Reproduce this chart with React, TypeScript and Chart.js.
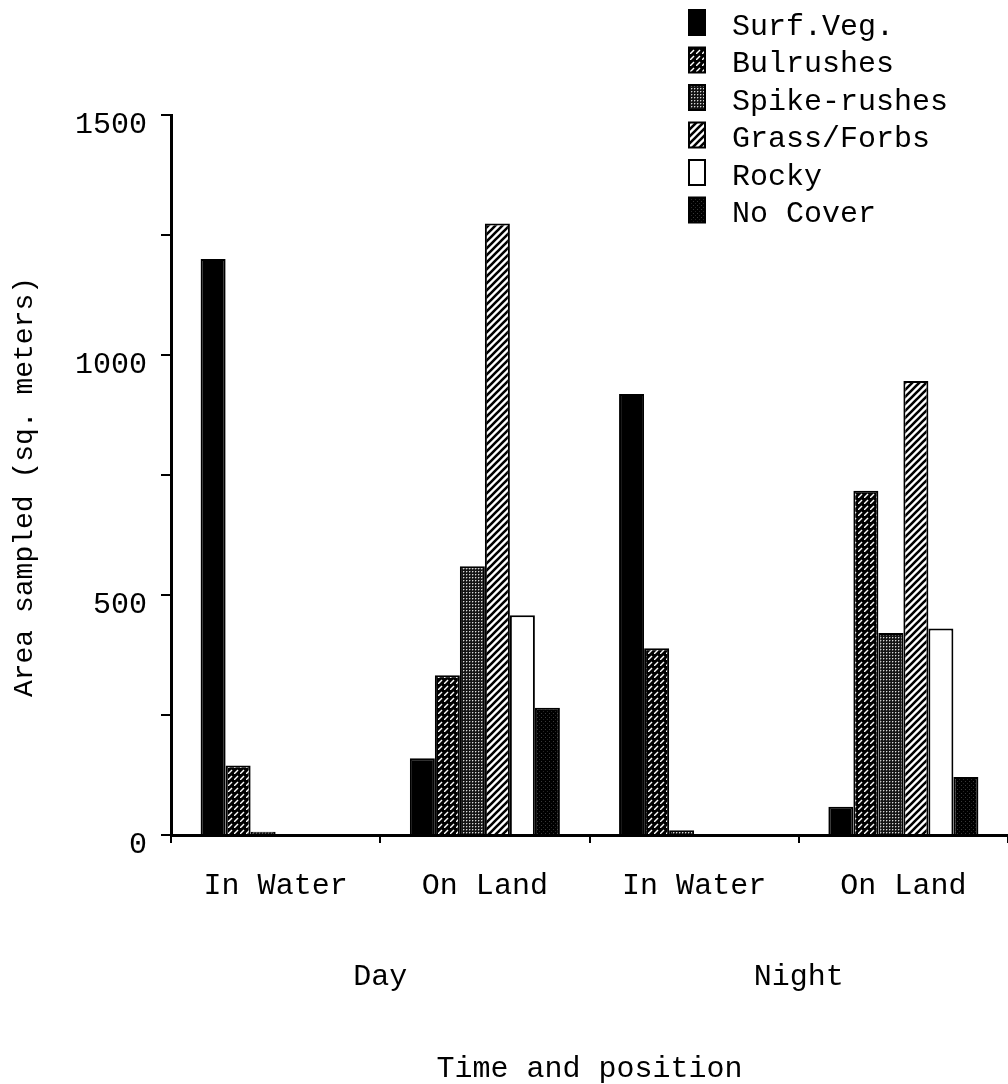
import React, { useEffect, useRef } from 'react';
import { Chart, registerables } from 'chart.js';

Chart.register(...registerables);

// Categories along the x axis and the period row beneath them
const positions = ['In Water', 'On Land', 'In Water', 'On Land'];
const periods = ['Day', 'Night'];

// Area sampled (sq. meters) for each cover type, per category
const seriesNames = ['Surf.Veg.', 'Bulrushes', 'Spike-rushes', 'Grass/Forbs', 'Rocky', 'No Cover'];
const surfVeg = [1200, 160, 919, 59];
const bulrushes = [145, 333, 389, 717];
const spikeRushes = [7, 560, 10, 421];
const grassForbs = [0, 1274, 0, 946];
const rocky = [0, 458, 0, 430];
const noCover = [0, 265, 0, 121];

// Y axis range and tick spacing; only every second tick is labelled
const yMin = 0;
const yMax = 1500;
const yStep = 250;
const yLabelEvery = 500;
const yTitle = 'Area sampled (sq. meters)';
const xTitle = 'Time and position';

const FONT = "'Liberation Mono', 'Courier New', monospace";
const INK = '#000';

function makeTile(size: number, paint: (ctx: CanvasRenderingContext2D) => void): CanvasPattern | string {
  const c = document.createElement('canvas');
  c.width = size;
  c.height = size;
  const ctx = c.getContext('2d');
  if (!ctx) return '#000';
  paint(ctx);
  const p = ctx.createPattern(c, 'repeat');
  return p || '#000';
}

function buildFills() {
  // Black with thin white dashed diagonals
  const bulrushFill = makeTile(6, (ctx) => {
    ctx.fillStyle = '#000';
    ctx.fillRect(0, 0, 6, 6);
    ctx.strokeStyle = '#fff';
    ctx.lineWidth = 1.4;
    ctx.beginPath();
    ctx.moveTo(0, 6);
    ctx.lineTo(4, 2);
    ctx.stroke();
  });
  // Dark stipple
  const spikeFill = makeTile(3, (ctx) => {
    ctx.fillStyle = '#141414';
    ctx.fillRect(0, 0, 3, 3);
    ctx.fillStyle = '#d8d8d8';
    ctx.fillRect(1, 1, 1, 1);
    ctx.fillStyle = '#5a5a5a';
    ctx.fillRect(2, 1, 1, 1);
    ctx.fillRect(1, 2, 1, 1);
  });
  // White with bold black diagonals
  const grassFill = makeTile(7, (ctx) => {
    ctx.fillStyle = '#fff';
    ctx.fillRect(0, 0, 7, 7);
    ctx.strokeStyle = '#000';
    ctx.lineWidth = 2.6;
    ctx.beginPath();
    ctx.moveTo(-1, 8);
    ctx.lineTo(8, -1);
    ctx.moveTo(-1, 1);
    ctx.lineTo(1, -1);
    ctx.moveTo(6, 8);
    ctx.lineTo(8, 6);
    ctx.stroke();
  });
  // Black with sparse faint dots
  const noCoverFill = makeTile(4, (ctx) => {
    ctx.fillStyle = '#000';
    ctx.fillRect(0, 0, 4, 4);
    ctx.fillStyle = '#3a3a3a';
    ctx.fillRect(1, 1, 1, 1);
    ctx.fillStyle = '#262626';
    ctx.fillRect(3, 3, 1, 1);
  });
  return ['#000', bulrushFill, spikeFill, grassFill, '#fff', noCoverFill];
}

// Legend in the top-right corner (using each dataset's fill) and the rotated y-axis title
const chartDecor = {
  id: 'chartDecor',
  afterDraw(chart: any) {
    const ctx: CanvasRenderingContext2D = chart.ctx;
    ctx.save();
    chart.data.datasets.forEach((ds: any, i: number) => {
      const top = 10 + i * 37.5;
      ctx.fillStyle = ds.backgroundColor;
      ctx.fillRect(689, top, 16, 25);
      ctx.strokeStyle = INK;
      ctx.lineWidth = 2;
      ctx.strokeRect(689, top, 16, 25);
      ctx.fillStyle = INK;
      ctx.font = `30px ${FONT}`;
      ctx.textAlign = 'left';
      ctx.textBaseline = 'alphabetic';
      ctx.fillText(ds.label, 732, 35 + i * 37.4);
    });

    ctx.translate(32, 487);
    ctx.rotate(-Math.PI / 2);
    ctx.fillStyle = INK;
    ctx.font = `28px ${FONT}`;
    ctx.textAlign = 'center';
    ctx.textBaseline = 'alphabetic';
    ctx.fillText(yTitle, 0, 0);
    ctx.restore();
  },
};

export default function App() {
  const canvasRef = useRef<HTMLCanvasElement | null>(null);

  useEffect(() => {
    const canvas = canvasRef.current;
    if (!canvas) return;
    const fills = buildFills();
    const values = [surfVeg, bulrushes, spikeRushes, grassForbs, rocky, noCover];

    const chart = new Chart(canvas, {
      type: 'bar',
      data: {
        labels: positions,
        datasets: seriesNames.map((name, i) => ({
          label: name,
          data: values[i],
          backgroundColor: fills[i] as any,
          borderColor: INK,
          borderWidth: 2,
          categoryPercentage: 0.717,
          barPercentage: 1,
        })),
      },
      options: {
        responsive: false,
        animation: false,
        devicePixelRatio: 1,
        layout: { padding: { top: 115, left: 0, right: 0, bottom: 0 } },
        plugins: {
          legend: { display: false },
          tooltip: { enabled: false },
        },
        scales: {
          x: {
            type: 'category',
            position: 'bottom',
            weight: 0,
            offset: true,
            grid: {
              display: true,
              drawOnChartArea: false,
              drawTicks: true,
              tickLength: 8,
              color: INK,
              lineWidth: 2,
              offset: true,
            },
            border: { display: true, color: INK, width: 3 },
            ticks: {
              color: INK,
              font: { family: FONT, size: 30 },
              padding: 25,
              maxRotation: 0,
              autoSkip: false,
            },
            afterFit: (s: any) => {
              s.height = 90;
            },
          },
          period: {
            type: 'category',
            position: 'bottom',
            weight: 1,
            labels: periods,
            offset: true,
            grid: { display: false, drawTicks: false },
            border: { display: false },
            ticks: {
              color: INK,
              font: { family: FONT, size: 30 },
              padding: 34,
              maxRotation: 0,
            },
            title: {
              display: true,
              text: xTitle,
              color: INK,
              font: { family: FONT, size: 30 },
              padding: { top: 0, bottom: -3 },
            },
            afterFit: (s: any) => {
              s.height = 159;
            },
          },
          y: {
            min: yMin,
            max: yMax,
            ticks: {
              stepSize: yStep,
              color: INK,
              font: { family: FONT, size: 30 },
              padding: 14,
              labelOffset: 10,
              callback: (v: any) => (Number(v) % yLabelEvery === 0 ? String(v) : ''),
            },
            grid: {
              display: true,
              drawOnChartArea: false,
              drawTicks: true,
              tickLength: 10,
              color: INK,
              lineWidth: 2,
            },
            border: { display: true, color: INK, width: 3 },
            title: { display: false },
            afterFit: (s: any) => {
              s.width = 171;
            },
          },
        },
      } as any,
      plugins: [chartDecor],
    });

    return () => {
      chart.destroy();
    };
  }, []);

  return (
    <div
      style={{
        position: 'absolute',
        left: 0,
        top: 0,
        width: 1008,
        height: 1084,
        background: '#fff',
        overflow: 'hidden',
      }}
    >
      <canvas ref={canvasRef} width={1008} height={1084} style={{ display: 'block' }} />
    </div>
  );
}
